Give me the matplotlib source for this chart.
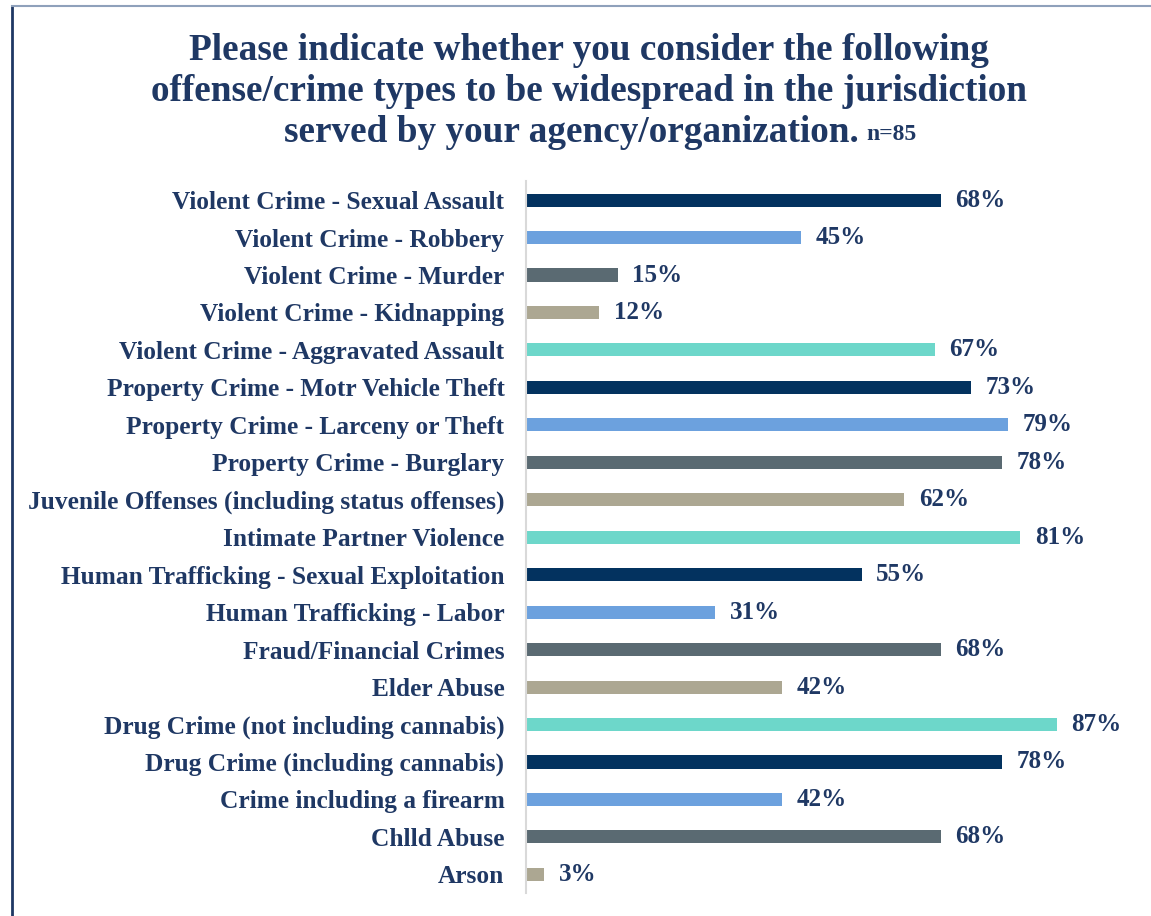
import matplotlib.pyplot as plt
from matplotlib.lines import Line2D

categories = [
    "Violent Crime - Sexual Assault",
    "Violent Crime - Robbery",
    "Violent Crime - Murder",
    "Violent Crime - Kidnapping",
    "Violent Crime - Aggravated Assault",
    "Property Crime - Motr Vehicle Theft",
    "Property Crime - Larceny or Theft",
    "Property Crime - Burglary",
    "Juvenile Offenses (including status offenses)",
    "Intimate Partner Violence",
    "Human Trafficking - Sexual Exploitation",
    "Human Trafficking - Labor",
    "Fraud/Financial Crimes",
    "Elder Abuse",
    "Drug Crime (not including cannabis)",
    "Drug Crime (including cannabis)",
    "Crime including a firearm",
    "Chlld Abuse",
    "Arson",
]
values = [68, 45, 15, 12, 67, 73, 79, 78, 62, 81, 55, 31, 68, 42, 87, 78, 42, 68, 3]
palette = ["#03325f", "#6ca1de", "#5a6a72", "#aca792", "#6dd7ca"]

text_color = "#1f3864"
serif = ["Liberation Serif", "DejaVu Serif"]

fig = plt.figure(figsize=(11.51, 9.16), dpi=100)
ax = fig.add_axes([0.457, 0.025, 0.53, 0.777])

n = len(categories)
ypos = list(range(n))
colors = [palette[i % len(palette)] for i in range(n)]
ax.barh(ypos, values, height=0.35, color=colors)

for y, v in zip(ypos, values):
    ax.text(v + 2.4, y, f"{v}%", va="center", ha="left", fontsize=18,
            fontweight="bold", family=serif, color=text_color)

ax.set_xlim(0, 100)
ax.set_ylim(n - 0.5, -0.5)
ax.set_yticks(ypos)
ax.set_yticklabels(categories, fontsize=18.3, fontweight="bold", family=serif,
                   color=text_color)
ax.tick_params(axis="y", length=0, pad=15.5)
ax.set_xticks([])
for side in ["top", "right", "bottom"]:
    ax.spines[side].set_visible(False)
ax.spines["left"].set_color("#d9d9d9")
ax.spines["left"].set_linewidth(1.5)

# title
title_kw = dict(fontsize=26.8, fontweight="bold", family=serif, color=text_color)
fig.text(0.512, 0.945, "Please indicate whether you consider the following",
         ha="center", va="center", **title_kw)
fig.text(0.512, 0.900, "offense/crime types to be widespread in the jurisdiction",
         ha="center", va="center", **title_kw)
fig.text(0.746, 0.855, "served by your agency/organization.",
         ha="right", va="center", **title_kw)
fig.text(0.753, 0.853, "n=85", ha="left", va="center", fontsize=17,
         fontweight="bold", family=serif, color=text_color)

# frame around the slide
fig.add_artist(Line2D([0.0105, 0.0105], [0, 0.9935], color="#1f3864", lw=2))
fig.add_artist(Line2D([0.0105, 1], [0.9935, 0.9935], color="#8fa1bb", lw=1.5))

fig.savefig("out.png", dpi=100)
